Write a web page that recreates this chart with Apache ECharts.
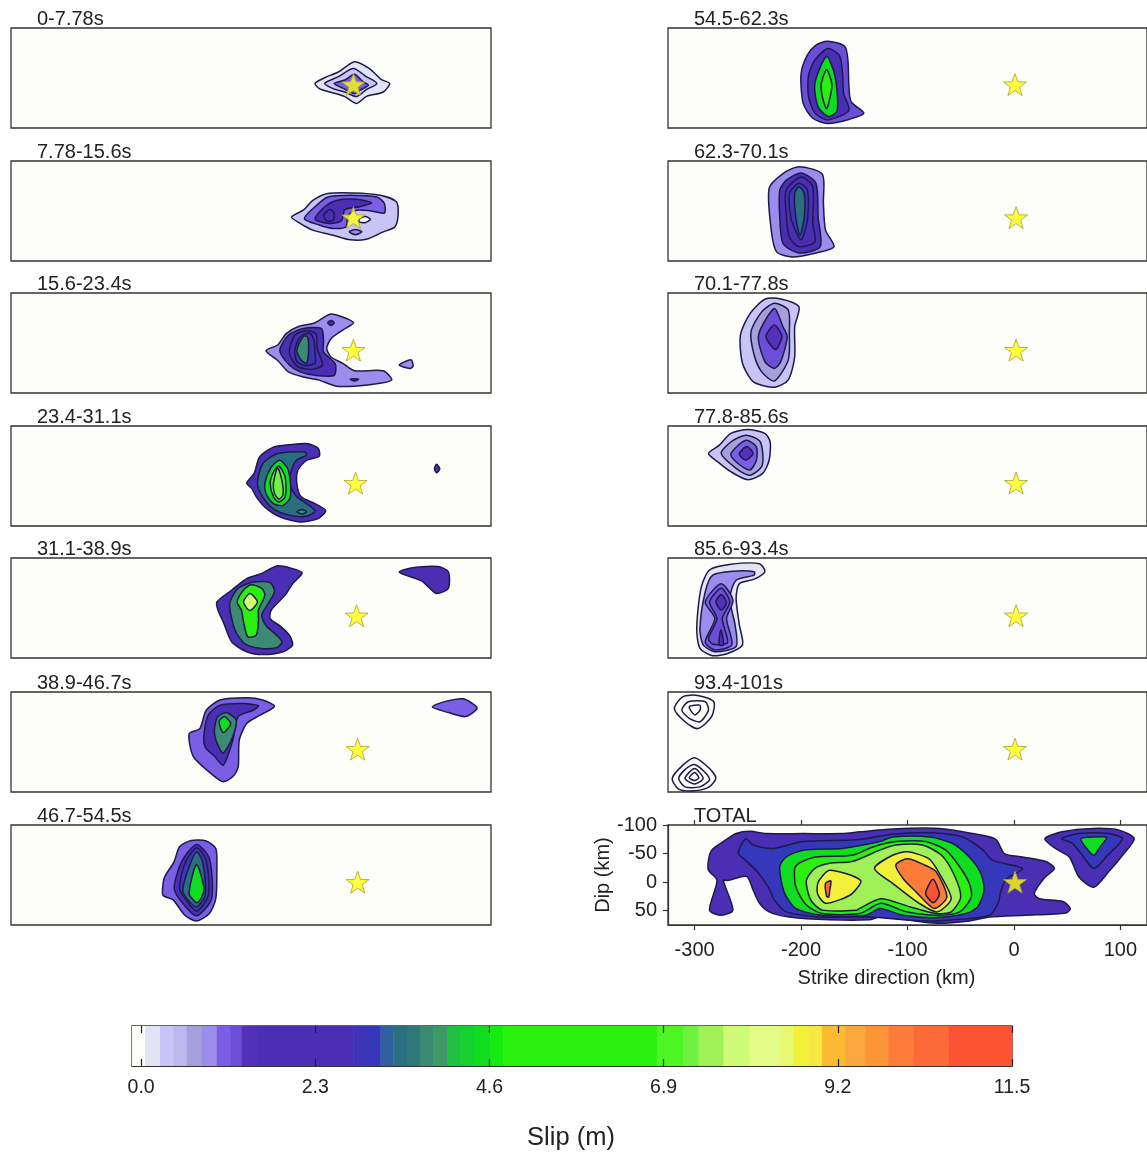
<!DOCTYPE html>
<html><head><meta charset="utf-8"><style>html,body{margin:0;padding:0;background:#fff}#c{width:1147px;height:1153px}</style>
<script src="https://cdn.jsdelivr.net/npm/echarts@6/dist/echarts.min.js"></script></head><body><div id="c"></div><script>
const strikeTicks=[-300,-200,-100,0,100];
const dipTicks=[-100,-50,0,50];
const slipTicks=[0,2.3,4.6,6.9,9.2,11.5];
const slipTickLabels=['0.0','2.3','4.6','6.9','9.2','11.5'];
const windows=['0-7.78s','7.78-15.6s','15.6-23.4s','23.4-31.1s','31.1-38.9s','38.9-46.7s','46.7-54.5s','54.5-62.3s','62.3-70.1s','70.1-77.8s','77.8-85.6s','85.6-93.4s','93.4-101s','TOTAL'];
const hypoStrike=[-4,-4,-4,-2,-1,0,0,1,2,2,2,2,1,1];
const hypoDip=[-1,-1,0,0,1,0,0,-1,-1,0,0,1,0,0];
const cbBreaks=[-0.12,0.05,0.25,0.43,0.6,0.8,1,1.18,1.33,1.53,2.8,2.98,3.16,3.33,3.51,3.68,3.86,4.04,4.21,4.39,4.61,4.78,6.81,7.16,7.36,7.69,8.04,8.44,8.61,8.81,8.99,9.3,9.56,9.87,10.2,10.66,11.5];
const cbColors=['#fcfcf8','#e3e4f3','#c8c5f6','#bdb8ee','#a5a0dc','#9c8cec','#7a5fe6','#6a4ed8','#5430b8','#4a2fb5','#3f34b8','#3538bb','#2f60a0','#2a6f80','#2f7878','#3d8a72','#3f9a68','#20c040','#14d030','#10dd20','#14ec10','#2af010','#4df525','#70f040','#a0f058','#d0fb78','#e4fb88','#e8f870','#f2f038','#f5e840','#fbba30','#faa83e','#fb9538','#fd7c3a','#fc6a38','#fc5333'];

const s1=[[0.15,[[-40,-3],[-31,-13],[-18,-23],[-3,-41],[11,-29],[22,-10],[30,-3],[24,12],[8,20],[-1,32],[-12,20],[-26,12],[-36,6]]],
[0.35,[[-31,-3],[-18,-15],[-4,-29],[8,-15],[18,-3],[8,8],[-1,20],[-12,12],[-23,6]]],
[1.1,[[-22,-3],[-12,-9],[-3,-19],[5,-6],[10,0],[2,9],[-3,15],[-12,7]]]];
const s2=[[0.35,[[-62,-2],[-51,-14],[-42,-31],[-28,-43],[-4,-44],[21,-40],[36,-29],[38,-8],[35,15],[24,24],[8,37],[-7,38],[-23,30],[-42,21],[-54,9]]],
[1,[[-50,1],[-40,-20],[-28,-37],[-7,-40],[18,-37],[25,-26],[25,-9],[11,-13],[-1,-14],[-9,-5],[-11,15],[-23,18],[-36,12]]],
[2,[[-40,1],[-31,-20],[-20,-31],[-1,-33],[13,-27],[2,-20],[-12,-15],[-15,4],[-23,9],[-32,8]]],
[2,[[-32,-5],[-26,-15],[-22,-8],[-23,4],[-29,5]]],
[0,[[2,1],[7,-3],[12,2],[7,8],[1,6]]],
[0.9,[[-8,24],[-2,20],[4,24],[-2,29]]]];
const s3=[[0.8,[[-86,1],[-75,-9],[-67,-29],[-56,-41],[-40,-48],[-26,-63],[-14,-58],[-4,-48],[-14,-35],[-25,-20],[-29,-3],[-25,12],[-14,23],[-3,36],[24,36],[32,52],[21,58],[-3,63],[-20,63],[-37,52],[-51,47],[-65,38],[-75,18]]],
[1.8,[[-73,1],[-65,-26],[-51,-38],[-34,-38],[-32,-17],[-32,3],[-21,24],[-22,44],[-40,44],[-54,38],[-64,26]]],
[2.4,[[-64,0],[-59,-26],[-48,-34],[-39,-29],[-38,-3],[-33,26],[-43,34],[-56,29],[-62,15]]],
[2.9,[[-59,0],[-54,-23],[-45,-30],[-41,-17],[-40,9],[-40,23],[-50,27],[-57,20]]],
[3.8,[[-57,0],[-51,-24],[-47,-23],[-46,0],[-48,23],[-53,17]]],
[2,[[-28,-48],[-25,-52],[-22,-48],[-25,-43]]],
[2,[[-7,51],[-3,50],[1,51],[-3,54]]],
[0.8,[[39,26],[50,17],[52,28],[49,32]]]];
const s4=[[2,[[-104,0],[-97,-17],[-92,-46],[-79,-63],[-64,-67],[-47,-69],[-37,-61],[-36,-47],[-48,-40],[-56,-23],[-57,1],[-53,24],[-40,36],[-30,48],[-37,62],[-54,68],[-73,59],[-87,42],[-95,24],[-99,10]]],
[3.4,[[-94,0],[-89,-34],[-76,-51],[-50,-55],[-48,-49],[-57,-41],[-62,-23],[-64,1],[-57,24],[-40,48],[-48,58],[-64,56],[-79,45],[-89,24]]],
[4.5,[[-87,0],[-81,-28],[-73,-40],[-65,-23],[-63,24],[-70,39],[-79,36],[-86,18]]],
[7,[[-82,0],[-79,-19],[-74,-30],[-68,-11],[-68,24],[-74,33],[-79,24]]],
[7.2,[[-79,0],[-75,-27],[-71,-5],[-70,21],[-74,28],[-78,18]]],
[3.8,[[-57,50],[-52,46],[-48,50],[-52,54]]],
[2,[[74,-33],[77,-25],[74,-18],[72,-25]]]];
const s5=[[2,[[-132,-23],[-118,-44],[-104,-64],[-90,-73],[-76,-86],[-64,-83],[-52,-74],[-61,-55],[-68,-35],[-81,-9],[-82,6],[-72,20],[-64,35],[-61,52],[-70,64],[-89,69],[-104,64],[-118,47],[-126,12],[-131,-9]]],
[3.8,[[-120,-20],[-112,-47],[-98,-58],[-82,-57],[-78,-41],[-84,-20],[-90,0],[-86,18],[-76,35],[-71,47],[-76,57],[-92,58],[-106,50],[-115,26]]],
[5.5,[[-113,-23],[-107,-44],[-100,-53],[-90,-47],[-87,-35],[-93,-9],[-93,9],[-95,35],[-103,38],[-107,12],[-109,-9]]],
[7.9,[[-107,-23],[-101,-38],[-94,-23],[-101,-8]]],
[2,[[39,-75],[49,-82],[75,-85],[85,-76],[85,-47],[74,-38],[66,-50],[60,-60]]]];
const s6=[[1.1,[[-158,-27],[-148,-36],[-142,-68],[-129,-86],[-104,-90],[-89,-86],[-78,-75],[-92,-59],[-104,-45],[-111,-16],[-112,31],[-117,48],[-126,57],[-136,45],[-154,13]]],
[2,[[-144,-27],[-140,-60],[-129,-77],[-107,-80],[-93,-76],[-98,-68],[-112,-57],[-117,-16],[-126,28],[-134,13],[-143,-4]]],
[3.8,[[-134,-39],[-131,-57],[-123,-64],[-114,-51],[-117,-22],[-126,7],[-131,-7],[-134,-24]]],
[4.5,[[-130,-48],[-125,-57],[-119,-45],[-126,-29]]],
[1.1,[[70,-74],[83,-84],[99,-88],[112,-72],[101,-57],[85,-64]]]];
const s7=[[1.1,[[-183,14],[-181,-9],[-172,-36],[-167,-62],[-156,-73],[-142,-72],[-133,-59],[-132,-24],[-133,29],[-139,55],[-151,68],[-162,58],[-173,31],[-182,24]]],
[2,[[-172,11],[-165,-36],[-151,-66],[-139,-41],[-137,29],[-151,59],[-164,37]]],
[2.9,[[-167,11],[-162,-33],[-151,-60],[-142,-38],[-140,23],[-151,51],[-161,31]]],
[3.4,[[-164,14],[-158,-27],[-151,-53],[-145,-33],[-143,23],[-151,43],[-159,31]]],
[4.5,[[-158,20],[-151,-31],[-144,11],[-147,29],[-151,36]]]];
const s8=[[1.2,[[-200,-20],[-194,-53],[-186,-70],[-175,-77],[-159,-68],[-156,-44],[-155,3],[-153,29],[-141,49],[-155,60],[-175,67],[-189,58],[-198,32]]],
[2,[[-193,-17],[-187,-44],[-175,-64],[-164,-52],[-161,-20],[-160,15],[-155,44],[-175,61],[-187,49],[-193,20]]],
[4.5,[[-187,-3],[-176,-50],[-168,-15],[-166,44],[-174,55],[-184,38]]],
[5.5,[[-181,-3],[-176,-27],[-171,0],[-176,41],[-180,20]]]];
const s9=[[0.9,[[-230,-52],[-217,-78],[-202,-90],[-180,-77],[-179,-26],[-177,21],[-169,50],[-186,61],[-208,68],[-223,59],[-228,21]]],
[2,[[-220,-49],[-214,-66],[-200,-79],[-186,-61],[-184,-2],[-182,50],[-202,61],[-217,44],[-220,-2]]],
[2.2,[[-214,-49],[-200,-72],[-189,-55],[-189,9],[-187,41],[-202,50],[-211,33],[-214,-8]]],
[2.9,[[-211,-43],[-202,-61],[-194,-49],[-194,3],[-200,38],[-209,3]]],
[3.4,[[-206,-43],[-202,-55],[-197,-43],[-197,-2],[-201,30],[-205,-2]]]];
const s10=[[0.35,[[-257,-26],[-248,-64],[-234,-89],[-220,-90],[-202,-76],[-206,-41],[-206,12],[-212,52],[-225,65],[-245,55],[-255,23]]],
[0.7,[[-247,-32],[-237,-67],[-225,-82],[-212,-70],[-211,-29],[-212,17],[-225,54],[-237,38],[-244,9]]],
[1.2,[[-240,-26],[-225,-73],[-217,-41],[-213,-23],[-219,20],[-225,32],[-234,20]]],
[1.4,[[-233,-24],[-225,-44],[-218,-24],[-224,-1]]]];
const s11=[[0.35,[[-287,-52],[-277,-66],[-266,-87],[-250,-94],[-234,-87],[-229,-72],[-230,-40],[-236,-17],[-250,-6],[-266,-20],[-278,-37]]],
[0.7,[[-275,-52],[-266,-72],[-252,-84],[-239,-74],[-236,-52],[-237,-29],[-248,-14],[-261,-26]]],
[1.1,[[-266,-51],[-252,-75],[-242,-64],[-242,-40],[-248,-23],[-259,-34]]],
[1.4,[[-258,-51],[-251,-64],[-245,-52],[-252,-40]]]];
const s12=[[0.15,[[-298,23],[-294,-47],[-286,-79],[-266,-89],[-239,-90],[-234,-76],[-244,-63],[-258,-55],[-261,-29],[-258,17],[-255,52],[-269,67],[-283,71],[-295,58]]],
[0.9,[[-295,23],[-290,-41],[-283,-70],[-264,-77],[-244,-76],[-244,-70],[-261,-61],[-267,-29],[-262,17],[-261,55],[-281,64],[-292,52]]],
[1.1,[[-290,-23],[-275,-55],[-264,-26],[-270,6],[-265,52],[-281,61],[-290,47],[-281,6]]],
[1.25,[[-286,-23],[-275,-47],[-267,-23],[-274,6],[-269,48],[-283,51],[-287,41],[-279,6]]],
[1.5,[[-280,-23],[-275,-36],[-270,-22],[-275,-9]]],
[1.5,[[-276,29],[-275,26],[-273,52],[-277,52]]]];
const s13=[[0,[[-319,-71],[-311,-92],[-297,-94],[-282,-83],[-284,-57],[-297,-36],[-309,-48]]],
[0,[[-312,-68],[-306,-83],[-290,-83],[-287,-68],[-295,-48],[-305,-54]]],
[0,[[-305,-74],[-295,-77],[-295,-68],[-300,-60]]],
[0,[[-321,51],[-311,28],[-300,15],[-286,34],[-280,51],[-287,67],[-301,73],[-315,70]]],
[0,[[-315,51],[-308,34],[-300,27],[-289,43],[-286,54],[-295,66],[-309,66]]],
[0,[[-309,51],[-300,34],[-292,51],[-300,61]]],
[0,[[-305,50],[-300,41],[-296,50],[-300,55]]]];
const sTotal=[[2,[[-287,-38],[-284,-56],[-273,-71],[-261,-85],[-248,-89],[-233,-85],[-198,-85],[-161,-85],[-145,-88],[-114,-93],[-70,-94],[-39,-85],[-17,-75],[-9,-50],[8,-44],[30,-36],[38,-24],[28,-6],[19,20],[24,29],[46,34],[53,46],[49,54],[11,58],[-23,61],[-42,68],[-73,72],[-101,66],[-126,61],[-136,66],[-173,66],[-211,61],[-230,52],[-239,37],[-245,14],[-251,-10],[-269,-3],[-273,-3],[-264,49],[-275,58],[-286,49],[-279,-3],[-287,-21]]],
[3,[[-259,-51],[-252,-76],[-245,-65],[-227,-59],[-198,-71],[-148,-74],[-114,-84],[-76,-86],[-48,-79],[-29,-56],[-20,-38],[8,-24],[-7,-6],[-12,14],[-15,37],[-23,58],[-51,65],[-83,68],[-136,61],[-180,61],[-214,52],[-225,31],[-231,8],[-241,-18],[-252,-38]]],
[4.5,[[-220,-27],[-214,-44],[-198,-56],[-161,-59],[-126,-71],[-114,-79],[-79,-79],[-58,-68],[-42,-44],[-31,-15],[-28,14],[-34,43],[-45,55],[-73,62],[-104,58],[-126,46],[-139,58],[-180,58],[-205,46],[-216,17]]],
[5.5,[[-206,-24],[-202,-33],[-186,-44],[-152,-47],[-132,-62],[-111,-71],[-83,-71],[-64,-56],[-51,-27],[-42,2],[-40,26],[-51,52],[-73,58],[-101,52],[-125,37],[-145,55],[-180,55],[-195,40],[-205,8]]],
[7.5,[[-195,-3],[-187,-24],[-173,-33],[-152,-36],[-126,-56],[-111,-65],[-86,-65],[-68,-47],[-56,-12],[-50,26],[-59,52],[-73,55],[-98,43],[-125,29],[-145,46],[-148,49],[-180,49],[-191,31]]],
[8.7,[[-185,14],[-183,-3],[-173,-21],[-144,-3],[-152,20],[-164,31],[-177,37],[-183,26]]],
[8.7,[[-131,-24],[-114,-47],[-100,-53],[-80,-41],[-70,-15],[-59,29],[-72,52],[-89,37],[-114,2]]],
[10,[[-111,-30],[-100,-41],[-84,-30],[-73,-18],[-63,26],[-75,46],[-92,17],[-104,-6]]],
[11,[[-83,20],[-76,-5],[-70,20],[-72,29],[-76,36]]],
[10.4,[[-177,2],[-172,-2],[-173,14],[-174,26],[-176,25]]],
[2,[[29,-76],[45,-88],[74,-94],[99,-91],[113,-76],[102,-47],[89,-18],[75,9],[61,-9],[52,-44],[39,-59]]],
[3,[[45,-76],[61,-85],[89,-85],[102,-76],[88,-47],[75,-24],[63,-50],[55,-68]]],
[4.5,[[63,-76],[74,-79],[87,-78],[81,-62],[75,-47],[67,-62]]]];
const panels=[s1,s2,s3,s4,s5,s6,s7,s8,s9,s10,s11,s12,s13,sTotal];

function slipColor(v){for(let i=0;i<cbColors.length;i++){if(v<cbBreaks[i+1])return cbColors[i];}return cbColors[cbColors.length-1];}
const STAR='path://M0,-10L2.35,-3.24L9.51,-3.09L3.8,1.24L5.88,8.09L0,4L-5.88,8.09L-3.8,1.24L-9.51,-3.09L-2.35,-3.24Z';
const tops=[28,161,293,426,558,692,825];
const grid=[],xAxis=[],yAxis=[],series=[],title=[];
const axisLineStyle={color:'#333',width:1.2};
const font='Liberation Sans';
panels.forEach((list,k)=>{
  const col=k<7?0:1,row=k<7?k:k-7;
  const left=col?668:11, top=tops[row];
  grid.push({left,top,width:480,height:100,show:true,backgroundColor:'#fdfdf9',borderColor:'#333',borderWidth:1.3});
  const isT=k===13;
  xAxis.push({gridIndex:k,type:'value',min:-325,max:125,position:'bottom',show:isT,splitLine:{show:false},
    axisLine:{onZero:false,lineStyle:axisLineStyle},axisTick:{show:isT,length:5,customValues:strikeTicks,lineStyle:axisLineStyle},
    axisLabel:{show:isT,customValues:strikeTicks,fontSize:20,color:'#222',margin:15,fontFamily:font},
    name:isT?'Strike direction (km)':'',nameLocation:'middle',nameGap:43,nameTextStyle:{fontSize:20,color:'#222',fontFamily:font,padding:[0,42,0,0]}});
  yAxis.push({gridIndex:k,type:'value',min:-100,max:75,inverse:true,show:isT,splitLine:{show:false},
    axisLine:{onZero:false,lineStyle:axisLineStyle},axisTick:{show:isT,length:5,customValues:dipTicks,lineStyle:axisLineStyle},
    axisLabel:{show:isT,customValues:dipTicks,fontSize:20,color:'#222',margin:11,fontFamily:font},
    name:isT?'Dip (km)':'',nameLocation:'middle',nameGap:49,nameRotate:90,nameTextStyle:{fontSize:20,color:'#222',fontFamily:font}});
  series.push({type:'custom',xAxisIndex:k,yAxisIndex:k,silent:true,animation:false,data:list.map(p=>[p[0]]),
    renderItem:(params,api)=>{
      const p=list[params.dataIndex];
      return {type:'polygon',shape:{points:p[1].map(q=>api.coord(q)),smooth:0.25},
        style:{fill:slipColor(p[0]),stroke:'#1d1a4a',lineWidth:1.5}};
    }});
  series.push({type:'scatter',xAxisIndex:k,yAxisIndex:k,silent:true,animation:false,z:5,symbol:STAR,symbolKeepAspect:true,symbolSize:23,
    data:[[hypoStrike[k],hypoDip[k]]],itemStyle:{color:'#ffff10',borderColor:'#a8a030',borderWidth:1}});
  title.push({text:windows[k],left:left+26,top:top-18,textStyle:{fontSize:20,fontWeight:'normal',color:'#222',fontFamily:font,lineHeight:18},padding:0});
});
// top ticks of TOTAL
xAxis.push({gridIndex:13,type:'value',min:-325,max:125,position:'top',axisLine:{show:false,onZero:false},splitLine:{show:false},
  axisTick:{show:true,length:5,customValues:strikeTicks,lineStyle:axisLineStyle},axisLabel:{show:false}});
// colour bar
grid.push({left:132,top:1026,width:880,height:40,show:true,backgroundColor:'#fff',borderColor:'#333',borderWidth:1.3});
const cbX=xAxis.length;
xAxis.push({gridIndex:14,type:'value',min:-0.12,max:11.5,position:'bottom',axisLine:{onZero:false,lineStyle:axisLineStyle},splitLine:{show:false},z:10,
  axisTick:{show:true,inside:true,length:7,customValues:slipTicks,lineStyle:{color:'#222',width:1.2}},
  axisLabel:{show:true,customValues:slipTicks,margin:12,fontSize:19.5,color:'#222',fontFamily:font,formatter:v=>slipTickLabels[slipTicks.indexOf(v)]},
  name:'Slip (m)',nameLocation:'middle',nameGap:59,nameTextStyle:{fontSize:25.5,color:'#222',fontFamily:font,padding:[0,2,0,0]}});
xAxis.push({gridIndex:14,type:'value',min:-0.12,max:11.5,position:'top',axisLine:{show:false,onZero:false},splitLine:{show:false},z:10,
  axisTick:{show:true,inside:true,length:7,customValues:slipTicks,lineStyle:{color:'#222',width:1.2}},axisLabel:{show:false}});
const cbY=yAxis.length;
yAxis.push({gridIndex:14,type:'value',min:0,max:1,show:false});
series.push({type:'custom',xAxisIndex:cbX,yAxisIndex:cbY,silent:true,animation:false,data:cbColors.map((c,i)=>[cbBreaks[i],cbBreaks[i+1]]),
  renderItem:(params,api)=>{
    const a=api.coord([api.value(0),1]),b=api.coord([api.value(1),0]);
    return {type:'rect',shape:{x:a[0],y:a[1],width:b[0]-a[0]+0.5,height:b[1]-a[1]},style:{fill:cbColors[params.dataIndex]}};
  }});
const chart=echarts.init(document.getElementById('c'),null,{renderer:'canvas'});
chart.setOption({animation:false,backgroundColor:'#fff',title,grid,xAxis,yAxis,series});
</script></body></html>
